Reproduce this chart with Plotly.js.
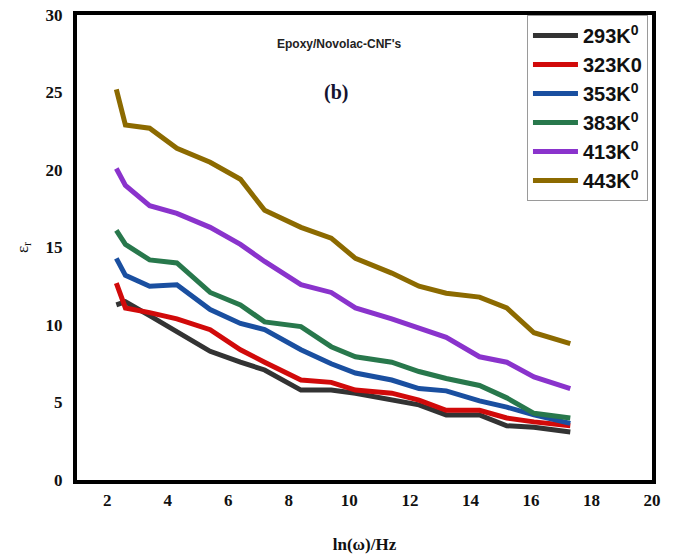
<!DOCTYPE html>
<html>
<head>
<meta charset="utf-8">
<script src="https://cdn.plot.ly/plotly-3.0.1.min.js"></script>
<style>
  html, body { margin: 0; padding: 0; background: #fff; }
  #chart { width: 676px; height: 554px; }
</style>
</head>
<body>
<div id="chart"></div>
<script>
// ln(ω) sample points shared by every temperature run
const lnOmega = [2.3, 2.6, 3.4, 4.3, 5.4, 6.4, 7.2, 8.4, 9.4, 10.2, 11.4, 12.3, 13.2, 14.3, 15.2, 16.1, 17.3];

// relative permittivity εr at each temperature
const eps293 = [11.3, 11.5, 10.6, 9.6, 8.3, 7.6, 7.1, 5.8, 5.8, 5.6, 5.15, 4.85, 4.2, 4.2, 3.5, 3.4, 3.1];
const eps323 = [12.7, 11.1, 10.8, 10.4, 9.7, 8.4, 7.6, 6.45, 6.3, 5.8, 5.6, 5.15, 4.5, 4.5, 4.0, 3.75, 3.5];
const eps353 = [14.3, 13.2, 12.5, 12.6, 11.0, 10.1, 9.7, 8.4, 7.5, 6.9, 6.45, 5.9, 5.75, 5.1, 4.7, 4.2, 3.65];
const eps383 = [16.1, 15.2, 14.2, 14.0, 12.1, 11.3, 10.2, 9.9, 8.6, 7.95, 7.6, 7.0, 6.55, 6.1, 5.3, 4.3, 4.0];
const eps413 = [20.1, 19.0, 17.7, 17.2, 16.3, 15.2, 14.1, 12.6, 12.1, 11.1, 10.4, 9.8, 9.2, 7.95, 7.6, 6.65, 5.9];
const eps443 = [25.2, 22.9, 22.7, 21.4, 20.5, 19.4, 17.4, 16.3, 15.6, 14.3, 13.35, 12.5, 12.05, 11.8, 11.1, 9.5, 8.8];

const seriesNames = ['293K<sup>0</sup>', '323K0', '353K<sup>0</sup>', '383K<sup>0</sup>', '413K<sup>0</sup>', '443K<sup>0</sup>'];
const seriesValues = [eps293, eps323, eps353, eps383, eps413, eps443];
const seriesColors = ['#333333', '#d10a0a', '#1a4fa0', '#28784c', '#8a33cc', '#8c6a00'];

const traces = seriesValues.map((vals, i) => ({
  type: 'scatter',
  mode: 'lines',
  x: lnOmega,
  y: vals,
  name: seriesNames[i],
  line: { color: seriesColors[i], width: 5 }
}));

const serif = 'Liberation Serif, Times New Roman, serif';
const sans = 'Liberation Sans, Arial, sans-serif';

const layout = {
  width: 676,
  height: 554,
  margin: { l: 77, r: 24, t: 15, b: 74 },
  paper_bgcolor: '#fff',
  plot_bgcolor: '#fff',
  showlegend: true,
  legend: {
    x: 0.993, xanchor: 'right',
    y: 1, yanchor: 'top',
    bgcolor: '#fff',
    bordercolor: '#9a9a9a',
    borderwidth: 1,
    itemwidth: 45,
    font: { family: sans, size: 20, color: '#111', weight: 'bold' },
    tracegroupgap: 0
  },
  xaxis: {
    range: [1, 20],
    dtick: 2,
    tick0: 0,
    showgrid: false,
    zeroline: false,
    showline: true,
    mirror: true,
    linecolor: '#000',
    linewidth: 4,
    ticks: '',
    ticklabelstandoff: 2,
    tickfont: { family: serif, size: 17, color: '#111', weight: 'bold' },
    title: {
      text: 'ln(ω)/Hz',
      font: { family: serif, size: 17, color: '#111', weight: 'bold' },
      standoff: 30
    }
  },
  yaxis: {
    range: [0, 30],
    dtick: 5,
    showgrid: false,
    zeroline: false,
    showline: true,
    mirror: true,
    linecolor: '#000',
    linewidth: 4,
    ticks: '',
    ticklabelstandoff: 7,
    tickfont: { family: serif, size: 17, color: '#111', weight: 'bold' },
    title: {
      text: 'ε<sub>r</sub>',
      font: { family: serif, size: 17, color: '#111' },
      standoff: 14
    }
  },
  annotations: [
    {
      xref: 'paper', yref: 'paper',
      x: 0.457, y: 0.9376,
      xanchor: 'center', yanchor: 'middle',
      text: "Epoxy/Novolac-CNF's",
      showarrow: false,
      font: { family: sans, size: 12, color: '#222', weight: 'bold' }
    },
    {
      xref: 'paper', yref: 'paper',
      x: 0.45, y: 0.834,
      xanchor: 'center', yanchor: 'middle',
      text: '(b)',
      showarrow: false,
      font: { family: serif, size: 20, color: '#141430', weight: 'bold' }
    }
  ]
};

Plotly.newPlot('chart', traces, layout, { displayModeBar: false, staticPlot: true });
</script>
</body>
</html>
